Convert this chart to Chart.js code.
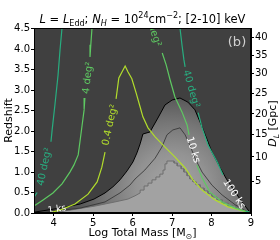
<!DOCTYPE html>
<html>
<head>
<meta charset="utf-8">
<script src="https://cdn.jsdelivr.net/npm/chart.js@4.4.1/dist/chart.umd.min.js"></script>
<style>
  html, body { margin: 0; padding: 0; background: #fff; }
</style>
</head>
<body>
<canvas id="chart" width="280" height="240"></canvas>
<script>
// axis ticks
const massTicks = [4, 5, 6, 7, 8, 9];
const redshiftTicks = [0, 0.5, 1, 1.5, 2, 2.5, 3, 3.5, 4, 4.5];
const dlTicks = [5, 10, 15, 20, 25, 30, 35, 40];
const dlRedshift = [0.76, 1.37, 1.93, 2.42, 2.91, 3.40, 3.86, 4.30];

// grey exposure map: outer (black) contour, middle contour, light plateau
const outerMass = [3.5, 4.16, 4.67, 5.02, 5.30, 5.50, 5.68, 5.86, 6.01, 6.11, 6.19, 6.26, 6.44, 6.64, 6.82, 7.00, 7.20, 7.40, 7.58, 7.71, 7.84, 8.01, 8.22, 8.39, 8.60, 8.77, 8.97, 9.0];
const outerZ = [0.02, 0.12, 0.22, 0.34, 0.49, 0.64, 0.81, 1.03, 1.25, 1.47, 1.69, 1.93, 1.98, 2.32, 2.64, 2.76, 2.81, 2.71, 2.52, 2.22, 1.91, 1.49, 1.10, 0.81, 0.51, 0.27, 0.02, 0];

const middleMass = [3.65, 4.67, 5.30, 5.68, 5.93, 6.06, 6.31, 6.57, 6.74, 6.87, 7.02, 7.20, 7.33, 7.45, 7.58, 7.76, 8.01, 8.27, 8.60, 8.92, 9.0];
const middleZ = [0, 0.12, 0.27, 0.49, 0.68, 0.83, 1.05, 1.34, 1.61, 1.91, 2.03, 2.08, 1.91, 1.66, 1.34, 1.00, 0.68, 0.44, 0.20, 0.02, 0];

const plateauMass = [3.86, 4.41, 5.05, 5.55, 5.88, 6.06, 6.19, 6.19, 6.29, 6.29, 6.39, 6.39, 6.49, 6.49, 6.59, 6.59, 6.69, 6.69, 6.77, 6.77, 6.82, 6.82, 6.87, 6.87, 6.97,
  7.05, 7.05, 7.13, 7.13, 7.23, 7.23, 7.30, 7.30, 7.38, 7.38, 7.45, 7.45, 7.53, 7.53, 7.61, 7.61, 7.71, 7.71, 7.81, 7.81, 7.91, 7.91, 8.01, 8.01, 8.14, 8.14, 8.27, 8.27, 8.42, 8.42, 8.62, 8.62, 8.82, 8.82, 9.0];
const plateauZ = [0, 0.07, 0.17, 0.27, 0.34, 0.42, 0.49, 0.56, 0.56, 0.66, 0.66, 0.73, 0.73, 0.81, 0.81, 0.88, 0.88, 0.95, 0.95, 1.05, 1.05, 1.20, 1.20, 1.27, 1.27,
  1.27, 1.22, 1.22, 1.15, 1.15, 1.08, 1.08, 1.00, 1.00, 0.91, 0.91, 0.83, 0.83, 0.76, 0.76, 0.69, 0.69, 0.61, 0.61, 0.54, 0.54, 0.47, 0.47, 0.39, 0.39, 0.32, 0.32, 0.24, 0.24, 0.17, 0.17, 0.10, 0.10, 0.05, 0.02];

// survey-area contours (null = gap under the inline label)
const area04Mass = [3.86, 4.16, 4.54, 4.87, 5.10, 5.22, 5.30, 5.36, 5.58, 5.65, 5.81, 5.88, 5.98, 6.09, 6.19, 6.26, 6.39, 6.57, 6.82, 7.07, 7.33, 7.53, 7.76, 8.09, 8.42, 8.92, 9.0];
const area04Z = [0, 0.07, 0.22, 0.46, 0.76, 1.12, 1.49, null, 2.79, 3.30, 3.59, 3.45, 3.28, 2.93, 2.59, 2.35, 2.08, 1.86, 1.61, 1.37, 1.10, 0.81, 0.56, 0.32, 0.15, 0.02, 0];

const area4LeftMass = [4.97, 4.94, 4.92, 4.86, 4.79, 4.77, 4.72, 4.67, 4.62, 4.51, 4.41, 4.21, 3.98, 3.73, 3.5];
const area4LeftZ = [4.52, 4.11, 3.81, null, 2.81, 2.52, 2.15, 1.78, 1.42, 1.17, 1.00, 0.71, 0.49, 0.32, 0.17];
const area4RightMass = [6.75, 6.85, 6.95, 7.07, 7.25, 7.38, 7.43, 7.53, 7.63, 7.76, 7.96, 8.27, 8.60, 8.92, 9.0];
const area4RightZ = [3.91, 3.62, 3.25, 2.84, 2.47, 2.15, 1.91, null, 1.17, 0.86, 0.51, 0.27, 0.12, 0.02, 0];

const area40LeftMass = [4.21, 4.16, 4.11, 4.03, 3.96, 3.93, 3.8, 3.58, 3.5];
const area40LeftZ = [4.52, 3.99, 3.37, 2.64, 2.03, 1.74, null, 0.50, 0.38];
const area40RightMass = [7.20, 7.25, 7.30, 7.33, 7.5, 7.66, 7.76, 7.91, 8.14, 8.29, 8.5, 8.87, 9.0];
const area40RightZ = [4.52, 4.11, 3.74, 3.57, null, 2.45, 2.08, 1.66, 1.25, 0.93, null, 0.05, 0];

const YELLOW = '#b2dd2c';
const GREEN = '#5ec962';
const TEAL = '#28ae80';

const contourLabels = [
  { text: '0.4 deg²', mass: 5.43, z: 2.15, angle: -78, color: YELLOW },
  { text: '4 deg²', mass: 4.87, z: 3.30, angle: -83, color: GREEN },
  { text: '40 deg²', mass: 3.77, z: 1.13, angle: -78, color: TEAL },
  { text: '4 deg²', mass: 6.52, z: 4.45, angle: 73, color: GREEN },
  { text: '40 deg²', mass: 7.48, z: 3.03, angle: 74, color: TEAL },
  { text: '10 ks', mass: 7.53, z: 1.54, angle: 73, color: '#ffffff' },
  { text: '100 ks', mass: 8.57, z: 0.46, angle: 57, color: '#ffffff' },
  { text: '1 ks', mass: 4.08, z: 0.09, angle: -8, color: '#ffffff' },
];

const FONT = '"DejaVu Sans", sans-serif';
Chart.defaults.font.family = FONT;
Chart.defaults.color = '#000';

function series(xs, ys) {
  return xs.map((x, i) => ({ x: x, y: ys[i] }));
}

function line(xs, ys, color, width, order, extra) {
  return Object.assign({
    data: series(xs, ys),
    borderColor: color,
    borderWidth: width,
    pointRadius: 0,
    tension: 0,
    fill: false,
    spanGaps: false,
    order: order,
  }, extra || {});
}

function mapGradient(context) {
  const chart = context.chart;
  if (!chart.chartArea) return '#555';
  const cx = chart.scales.x.getPixelForValue(7.0);
  const cy = chart.scales.y.getPixelForValue(0.6);
  const g = chart.ctx.createRadialGradient(cx, cy, 0, cx, cy, 120);
  g.addColorStop(0, '#a8a8a8');
  g.addColorStop(0.3, '#939393');
  g.addColorStop(0.55, '#767676');
  g.addColorStop(0.75, '#5a5a5a');
  g.addColorStop(1, '#464646');
  return g;
}

// draw text pieces (italic / sub / sup) in a row, centred on cx
function richText(ctx, parts, cx, cy, size) {
  const fontFor = (p) => (p.i ? 'italic ' : '') + (p.k ? size * 0.7 : size) + 'px ' + FONT;
  let total = 0;
  parts.forEach(p => { ctx.font = fontFor(p); p.w = ctx.measureText(p.t).width; total += p.w; });
  let x = cx - total / 2;
  ctx.textAlign = 'left';
  ctx.textBaseline = 'alphabetic';
  parts.forEach(p => {
    ctx.font = fontFor(p);
    const dy = p.k === 'sub' ? size * 0.28 : p.k === 'sup' ? -size * 0.42 : 0;
    ctx.fillText(p.t, x, cy + dy);
    x += p.w;
  });
}

const decorations = {
  id: 'decorations',
  beforeDatasetsDraw(chart) {
    const { ctx, chartArea: a } = chart;
    ctx.save();
    ctx.fillStyle = '#404040';
    ctx.fillRect(a.left, a.top, a.right - a.left, a.bottom - a.top);
    ctx.restore();
  },
  afterDatasetsDraw(chart) {
    const { ctx, chartArea: a, scales } = chart;
    ctx.save();
    ctx.beginPath();
    ctx.rect(a.left, a.top, a.right - a.left, a.bottom - a.top);
    ctx.clip();
    ctx.textAlign = 'center';
    ctx.textBaseline = 'middle';
    contourLabels.forEach(l => {
      ctx.save();
      ctx.translate(scales.x.getPixelForValue(l.mass), scales.y.getPixelForValue(l.z));
      ctx.rotate(l.angle * Math.PI / 180);
      ctx.font = (l.text === '1 ks' ? 9 : 10) + 'px ' + FONT;
      ctx.fillStyle = l.color;
      ctx.fillText(l.text, 0, 0);
      ctx.restore();
    });
    ctx.fillStyle = '#d0d0d0';
    ctx.font = '13px ' + FONT;
    ctx.fillText('(b)', a.right - 14, a.top + 15);
    ctx.restore();

    ctx.save();
    ctx.strokeStyle = '#000';
    ctx.lineWidth = 1;
    ctx.strokeRect(a.left + 0.5, a.top + 0.5, a.right - a.left - 1, a.bottom - a.top - 1);
    ctx.restore();
  },
  afterDraw(chart) {
    const { ctx, chartArea: a } = chart;
    ctx.save();
    ctx.fillStyle = '#000';
    richText(ctx, [
      { t: 'L', i: true }, { t: ' = ' }, { t: 'L', i: true }, { t: 'Edd', k: 'sub' },
      { t: '; ' }, { t: 'N', i: true }, { t: 'H', i: true, k: 'sub' }, { t: ' = 10' },
      { t: '24', k: 'sup' }, { t: 'cm' }, { t: '−2', k: 'sup' }, { t: '; [2-10] keV' },
    ], (a.left + a.right) / 2, 23, 11.5);

    richText(ctx, [{ t: 'Log Total Mass [M' }, { t: '⊙', k: 'sub' }, { t: ']' }],
      (a.left + a.right) / 2, 236, 11);

    ctx.save();
    ctx.translate(12, (a.top + a.bottom) / 2);
    ctx.rotate(-Math.PI / 2);
    richText(ctx, [{ t: 'Redshift' }], 0, 0, 11);
    ctx.restore();

    ctx.save();
    ctx.translate(276, (a.top + a.bottom) / 2 + 3);
    ctx.rotate(-Math.PI / 2);
    richText(ctx, [{ t: 'D', i: true }, { t: 'L', i: true, k: 'sub' }, { t: ' [Gpc]' }], 0, 0, 11);
    ctx.restore();
    ctx.restore();
  },
};

new Chart(document.getElementById('chart'), {
  type: 'line',
  data: {
    datasets: [
      line(outerMass, outerZ, '#000000', 1, 10, { fill: 'origin', backgroundColor: mapGradient }),
      line(plateauMass, plateauZ, '#6e6e6e', 1, 9, { fill: 'origin', backgroundColor: '#a2a2a2' }),
      line(middleMass, middleZ, '#303030', 0.8, 8),
      line(area04Mass, area04Z, YELLOW, 1.2, 3),
      line(area4LeftMass, area4LeftZ, GREEN, 1.2, 2),
      line(area4RightMass, area4RightZ, GREEN, 1.2, 2),
      line(area40LeftMass, area40LeftZ, TEAL, 1.2, 1),
      line(area40RightMass, area40RightZ, TEAL, 1.2, 1),
    ],
  },
  options: {
    responsive: false,
    animation: false,
    devicePixelRatio: 1,
    layout: { padding: { top: 28, left: 0, right: 0, bottom: 0 } },
    plugins: {
      legend: { display: false },
      tooltip: { enabled: false },
      title: { display: false },
    },
    scales: {
      x: {
        type: 'linear',
        min: 3.5,
        max: 9,
        afterBuildTicks: (s) => { s.ticks = massTicks.map(v => ({ value: v })); },
        afterFit: (s) => { s.height = 27; },
        ticks: { font: { size: 10 }, padding: 1, maxRotation: 0, autoSkip: false, callback: (v) => String(v) },
        grid: { drawOnChartArea: false, tickLength: 3, tickColor: '#000', color: '#000' },
        border: { color: '#000' },
      },
      y: {
        type: 'linear',
        position: 'left',
        min: 0,
        max: 4.52,
        afterBuildTicks: (s) => { s.ticks = redshiftTicks.map(v => ({ value: v })); },
        afterFit: (s) => { s.width = 34; },
        ticks: { font: { size: 10 }, padding: 1, autoSkip: false, callback: (v) => v.toFixed(1) },
        grid: { drawOnChartArea: false, tickLength: 3, tickColor: '#000', color: '#000' },
        border: { color: '#000' },
      },
      dl: {
        type: 'linear',
        position: 'right',
        min: 0,
        max: 4.52,
        afterBuildTicks: (s) => { s.ticks = dlRedshift.map(v => ({ value: v })); },
        afterFit: (s) => { s.width = 29; },
        ticks: { font: { size: 10 }, padding: 1, autoSkip: false, callback: (v, i) => String(dlTicks[i]) },
        grid: { drawOnChartArea: false, tickLength: 3, tickColor: '#000', color: '#000' },
        border: { color: '#000' },
      },
    },
  },
  plugins: [decorations],
});
</script>
</body>
</html>
